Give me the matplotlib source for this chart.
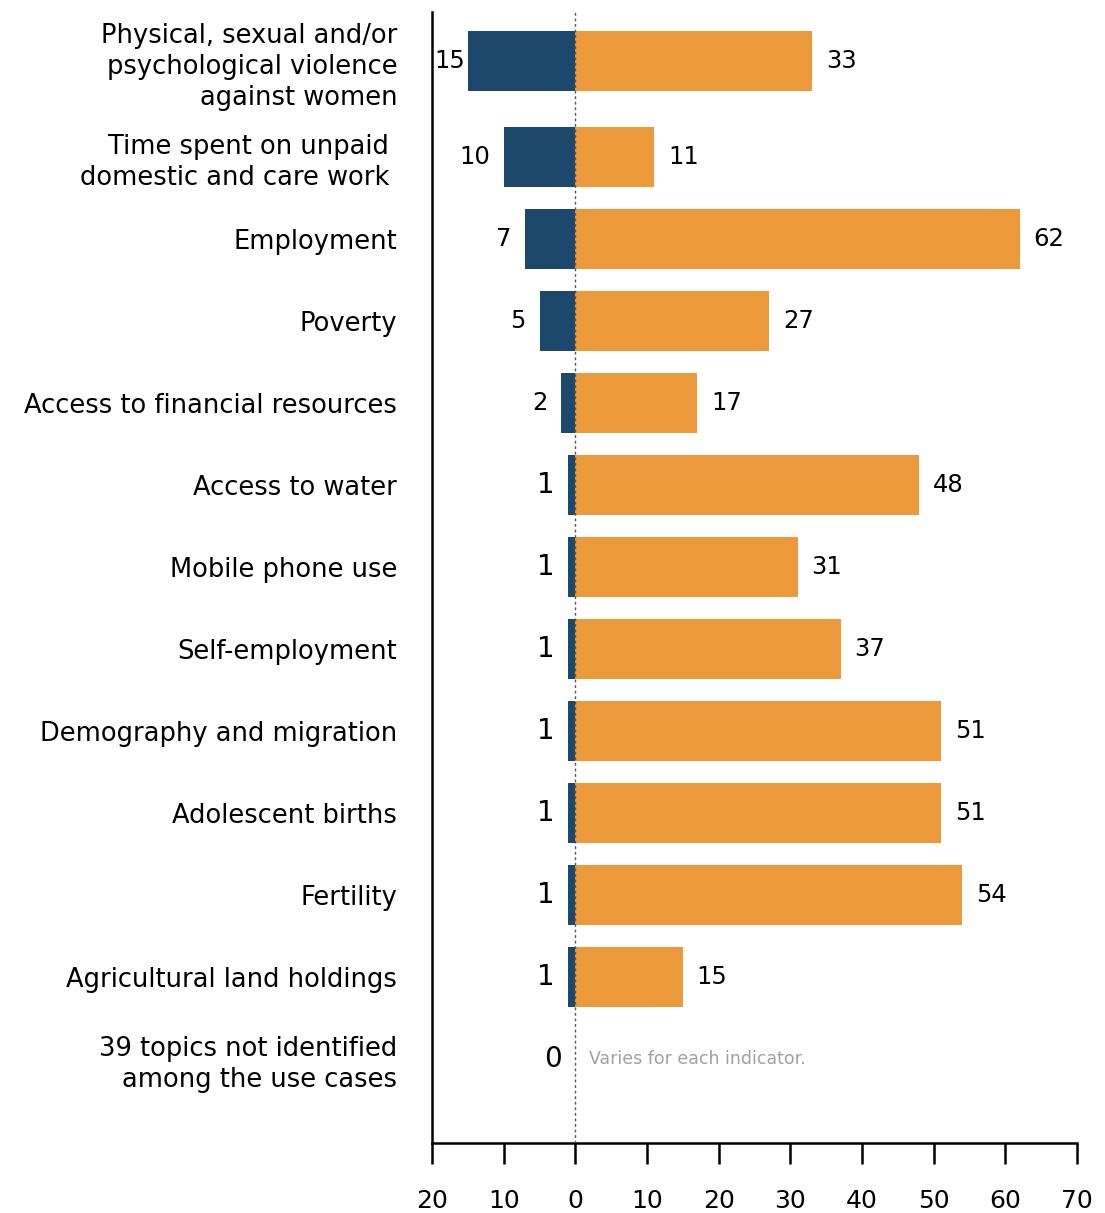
import numpy as np
import matplotlib
matplotlib.use("Agg")
import matplotlib.pyplot as plt

plt.rcParams['font.family'] = ['DejaVu Sans']

categories = [
    "Physical, sexual and/or\npsychological violence\nagainst women",
    "Time spent on unpaid \ndomestic and care work ",
    "Employment",
    "Poverty",
    "Access to financial resources",
    "Access to water",
    "Mobile phone use",
    "Self-employment",
    "Demography and migration",
    "Adolescent births",
    "Fertility",
    "Agricultural land holdings",
    "39 topics not identified\namong the use cases",
]
left_vals = [15, 10, 7, 5, 2, 1, 1, 1, 1, 1, 1, 1, 0]
right_vals = [33, 11, 62, 27, 17, 48, 31, 37, 51, 51, 54, 15, None]
xticks = [-20, -10, 0, 10, 20, 30, 40, 50, 60, 70]
xtick_labels = ["20", "10", "0", "10", "20", "30", "40", "50", "60", "70"]

BLUE = "#1c486b"
ORANGE = "#ec9a3c"

fig = plt.figure(figsize=(11.05, 12.13), dpi=100)
ax = fig.add_axes([0.391, 0.0577, 0.5837, 0.9323])

y = np.arange(len(categories), dtype=float)
y[0] -= 0.17

h = 0.73
ax.barh(y, [-v for v in left_vals], height=h, color=BLUE)
rv = [v if v is not None else 0 for v in right_vals]
ax.barh(y, rv, height=h, color=ORANGE)

for yi, v in zip(y, left_vals):
    big = v <= 1
    off = -2 if v >= 15 else -10
    ax.annotate(str(v), (-v, yi), xytext=(off, 0), textcoords="offset points",
                ha="right", va="center", fontsize=20 if big else 17.5,
                color="black")
for yi, v in zip(y, right_vals):
    if v is None:
        continue
    ax.annotate(str(v), (v, yi), xytext=(10, 0), textcoords="offset points",
                ha="left", va="center", fontsize=17.5)

ax.annotate("Varies for each indicator.", (0, y[-1]), xytext=(10, 0),
            textcoords="offset points", ha="left", va="center",
            fontsize=12.5, color="#a0a0a0")

ax.axvline(0, color="#555555", lw=1, ls=(0, (2, 2)), zorder=3)

ax.set_xlim(-20, 70)
ax.set_ylim(13.02, -0.77)
ax.set_xticks(xticks)
ax.set_xticklabels(xtick_labels, fontsize=18)
ax.set_yticks(y)
ax.set_yticklabels(categories, fontsize=18.5, linespacing=1.25)
ax.tick_params(axis="y", length=0, pad=25)
ax.tick_params(axis="x", length=15, width=1.8, pad=18)

for s in ["top", "right"]:
    ax.spines[s].set_visible(False)
for s in ["left", "bottom"]:
    ax.spines[s].set_linewidth(1.8)

plt.savefig("out.png", dpi=100)
